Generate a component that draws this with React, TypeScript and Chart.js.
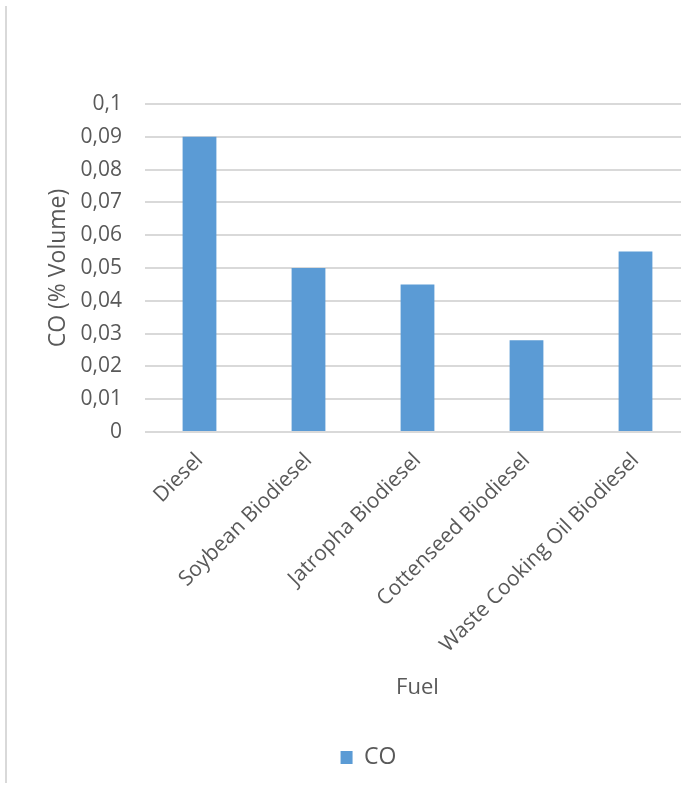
import React, { useEffect, useRef } from 'react';
import { Chart, registerables } from 'chart.js';

Chart.register(...registerables);

// Chart values
const fuels = ['Diesel', 'Soybean Biodiesel', 'Jatropha Biodiesel', 'Cottenseed Biodiesel', 'Waste Cooking Oil Biodiesel'];
const coValues = [0.09, 0.05, 0.045, 0.028, 0.055];
const yTickLabels = ['0', '0,01', '0,02', '0,03', '0,04', '0,05', '0,06', '0,07', '0,08', '0,09', '0,1'];

const FONT = '"Open Sans", sans-serif';
const TEXT = '#595959';

export default function App() {
    const chartRef = useRef<HTMLCanvasElement | null>(null);

    useEffect(() => {
        let chartInstance: Chart | null = null;
        if (chartRef.current) {
            chartInstance = new Chart(chartRef.current, {
                type: 'bar',
                data: {
                    labels: fuels,
                    datasets: [{
                        label: 'CO',
                        data: coValues,
                        backgroundColor: '#5B9BD5',
                        barPercentage: 0.62,
                        categoryPercentage: 0.5
                    }]
                },
                options: {
                    animation: false,
                    responsive: false,
                    layout: { padding: { top: 98, left: 40, right: 54, bottom: 4 } },
                    plugins: {
                        tooltip: { enabled: false },
                        legend: {
                            position: 'bottom',
                            labels: {
                                color: TEXT,
                                font: { family: FONT, size: 23 },
                                boxWidth: 12,
                                boxHeight: 13,
                                padding: 10
                            }
                        }
                    },
                    scales: {
                        x: {
                            grid: { display: false },
                            border: { display: false },
                            ticks: {
                                color: TEXT,
                                font: { family: FONT, size: 21 },
                                minRotation: 45,
                                maxRotation: 45,
                                padding: 8
                            },
                            title: {
                                display: true,
                                text: 'Fuel',
                                color: TEXT,
                                font: { family: FONT, size: 22 },
                                padding: { top: 0, bottom: 35 }
                            },
                            afterFit: (scale: any) => { scale.height = 304; }
                        },
                        y: {
                            min: 0,
                            max: 0.1,
                            grid: { color: '#d9d9d9', lineWidth: 2, drawTicks: false },
                            border: { display: false },
                            ticks: {
                                stepSize: 0.01,
                                color: TEXT,
                                font: { family: FONT, size: 21 },
                                padding: 23,
                                callback: (_v: any, i: number) => yTickLabels[i]
                            },
                            title: {
                                display: true,
                                text: 'CO (% Volume)',
                                color: TEXT,
                                font: { family: FONT, size: 23 },
                                padding: { top: -2, bottom: 0 }
                            },
                            afterFit: (scale: any) => { scale.width = 98; }
                        }
                    }
                }
            });
        }
        return () => {
            if (chartInstance) chartInstance.destroy();
        };
    }, []);

    return (
        <div style={{ position: 'fixed', inset: 0, overflow: 'hidden', background: '#fff' }}>
            <div style={{ position: 'absolute', left: 5, top: 6, height: 777, borderLeft: '2px solid #d9d9d9' }}>
                <canvas ref={chartRef} width={737} height={777} style={{ display: 'block' }}></canvas>
            </div>
        </div>
    );
}
